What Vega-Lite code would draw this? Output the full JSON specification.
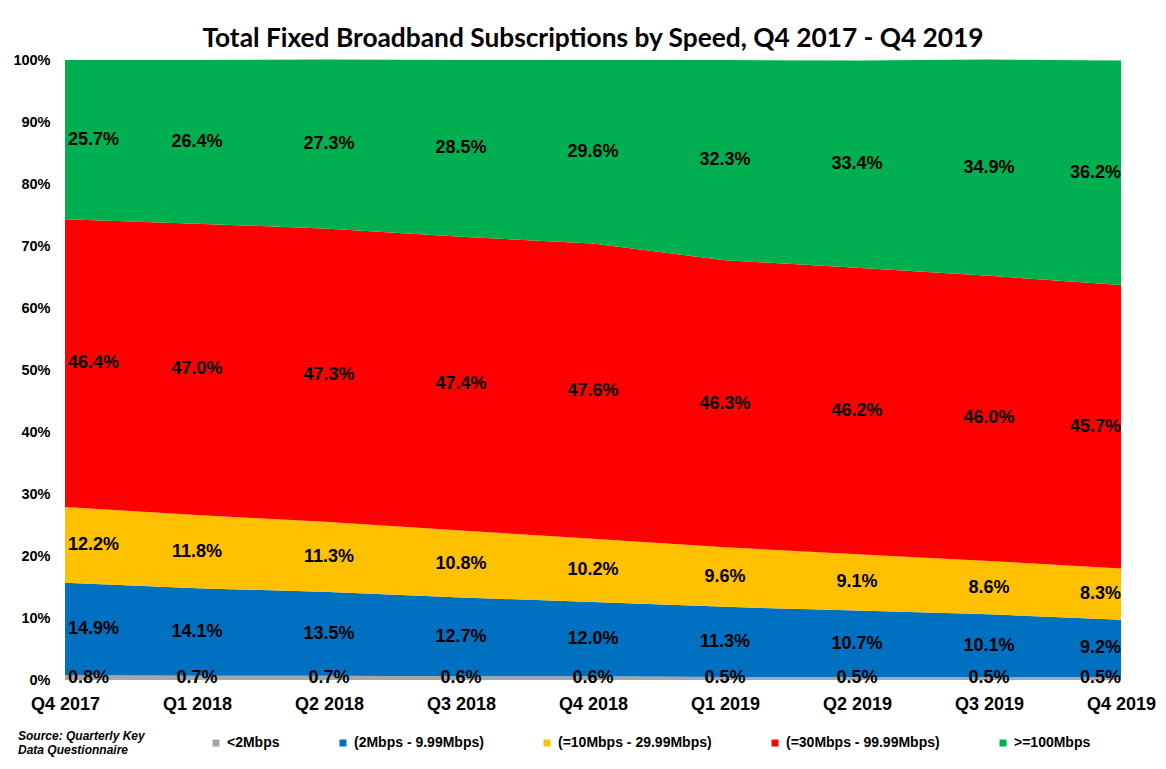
{
  "$schema": "https://vega.github.io/schema/vega-lite/v6.json",
  "autosize": "none",
  "width": 1056,
  "height": 620,
  "padding": {"left": 65, "top": 60, "right": 45, "bottom": 89},
  "background": "white",
  "config": {"view": {"stroke": null}},
  "title": {
    "text": "Total Fixed Broadband Subscriptions by Speed, Q4 2017 - Q4 2019",
    "font": "Lato",
    "fontSize": 26.3,
    "fontWeight": "bold",
    "color": "#000000",
    "anchor": "middle",
    "frame": "group",
    "offset": 0
  },
  "data": {
    "values": [
      {"quarter": "Q4 2017", "series": "<2Mbps", "value": 0.008},
      {"quarter": "Q4 2017", "series": "(2Mbps - 9.99Mbps)", "value": 0.149},
      {"quarter": "Q4 2017", "series": "(=10Mbps - 29.99Mbps)", "value": 0.122},
      {"quarter": "Q4 2017", "series": "(=30Mbps - 99.99Mbps)", "value": 0.464},
      {"quarter": "Q4 2017", "series": ">=100Mbps", "value": 0.257},
      {"quarter": "Q1 2018", "series": "<2Mbps", "value": 0.007},
      {"quarter": "Q1 2018", "series": "(2Mbps - 9.99Mbps)", "value": 0.141},
      {"quarter": "Q1 2018", "series": "(=10Mbps - 29.99Mbps)", "value": 0.118},
      {"quarter": "Q1 2018", "series": "(=30Mbps - 99.99Mbps)", "value": 0.470},
      {"quarter": "Q1 2018", "series": ">=100Mbps", "value": 0.264},
      {"quarter": "Q2 2018", "series": "<2Mbps", "value": 0.007},
      {"quarter": "Q2 2018", "series": "(2Mbps - 9.99Mbps)", "value": 0.135},
      {"quarter": "Q2 2018", "series": "(=10Mbps - 29.99Mbps)", "value": 0.113},
      {"quarter": "Q2 2018", "series": "(=30Mbps - 99.99Mbps)", "value": 0.473},
      {"quarter": "Q2 2018", "series": ">=100Mbps", "value": 0.273},
      {"quarter": "Q3 2018", "series": "<2Mbps", "value": 0.006},
      {"quarter": "Q3 2018", "series": "(2Mbps - 9.99Mbps)", "value": 0.127},
      {"quarter": "Q3 2018", "series": "(=10Mbps - 29.99Mbps)", "value": 0.108},
      {"quarter": "Q3 2018", "series": "(=30Mbps - 99.99Mbps)", "value": 0.474},
      {"quarter": "Q3 2018", "series": ">=100Mbps", "value": 0.285},
      {"quarter": "Q4 2018", "series": "<2Mbps", "value": 0.006},
      {"quarter": "Q4 2018", "series": "(2Mbps - 9.99Mbps)", "value": 0.120},
      {"quarter": "Q4 2018", "series": "(=10Mbps - 29.99Mbps)", "value": 0.102},
      {"quarter": "Q4 2018", "series": "(=30Mbps - 99.99Mbps)", "value": 0.476},
      {"quarter": "Q4 2018", "series": ">=100Mbps", "value": 0.296},
      {"quarter": "Q1 2019", "series": "<2Mbps", "value": 0.005},
      {"quarter": "Q1 2019", "series": "(2Mbps - 9.99Mbps)", "value": 0.113},
      {"quarter": "Q1 2019", "series": "(=10Mbps - 29.99Mbps)", "value": 0.096},
      {"quarter": "Q1 2019", "series": "(=30Mbps - 99.99Mbps)", "value": 0.463},
      {"quarter": "Q1 2019", "series": ">=100Mbps", "value": 0.323},
      {"quarter": "Q2 2019", "series": "<2Mbps", "value": 0.005},
      {"quarter": "Q2 2019", "series": "(2Mbps - 9.99Mbps)", "value": 0.107},
      {"quarter": "Q2 2019", "series": "(=10Mbps - 29.99Mbps)", "value": 0.091},
      {"quarter": "Q2 2019", "series": "(=30Mbps - 99.99Mbps)", "value": 0.462},
      {"quarter": "Q2 2019", "series": ">=100Mbps", "value": 0.334},
      {"quarter": "Q3 2019", "series": "<2Mbps", "value": 0.005},
      {"quarter": "Q3 2019", "series": "(2Mbps - 9.99Mbps)", "value": 0.101},
      {"quarter": "Q3 2019", "series": "(=10Mbps - 29.99Mbps)", "value": 0.086},
      {"quarter": "Q3 2019", "series": "(=30Mbps - 99.99Mbps)", "value": 0.460},
      {"quarter": "Q3 2019", "series": ">=100Mbps", "value": 0.349},
      {"quarter": "Q4 2019", "series": "<2Mbps", "value": 0.005},
      {"quarter": "Q4 2019", "series": "(2Mbps - 9.99Mbps)", "value": 0.092},
      {"quarter": "Q4 2019", "series": "(=10Mbps - 29.99Mbps)", "value": 0.083},
      {"quarter": "Q4 2019", "series": "(=30Mbps - 99.99Mbps)", "value": 0.457},
      {"quarter": "Q4 2019", "series": ">=100Mbps", "value": 0.362}
    ]
  },
  "transform": [
    {"stack": "value", "groupby": ["quarter"], "as": ["y0", "y1"], "offset": "zero"}
  ],
  "encoding": {
    "x": {
      "field": "quarter",
      "type": "ordinal",
      "sort": null,
      "scale": {"type": "point", "padding": 0},
      "axis": {
        "title": null,
        "labelAngle": 0,
        "domain": false,
        "ticks": false,
        "labelPadding": 15,
        "labelFont": "Liberation Sans",
        "labelFontSize": 18,
        "labelFontWeight": "bold",
        "labelColor": "#000000"
      }
    }
  },
  "layer": [
    {
      "mark": {"type": "area", "opacity": 1},
      "encoding": {
        "y": {
          "field": "y1",
          "type": "quantitative",
          "scale": {"domain": [0, 1]},
          "axis": {
            "title": null,
            "format": ".0%",
            "values": [0, 0.1, 0.2, 0.3, 0.4, 0.5, 0.6, 0.7, 0.8, 0.9, 1],
            "grid": false,
            "domain": false,
            "ticks": false,
            "labelPadding": 15,
            "labelFont": "Liberation Sans",
            "labelFontSize": 14.5,
            "labelFontWeight": "bold",
            "labelColor": "#000000"
          }
        },
        "y2": {"field": "y0"},
        "color": {
          "field": "series",
          "type": "nominal",
          "scale": {
            "domain": ["<2Mbps", "(2Mbps - 9.99Mbps)", "(=10Mbps - 29.99Mbps)", "(=30Mbps - 99.99Mbps)", ">=100Mbps"],
            "range": ["#A6A6A6", "#0070C0", "#FFC000", "#FF0000", "#00B050"]
          },
          "legend": {
            "title": ["Source:  Quarterly Key", "Data Questionnaire"],
            "titleOrient": "left",
            "titleFont": "Liberation Sans",
            "titleFontSize": 12,
            "titleFontWeight": "bold",
            "titleFontStyle": "italic",
            "titleColor": "#000000",
            "titlePadding": 60,
            "titleLineHeight": 14,
            "orient": "none",
            "legendX": -47,
            "legendY": 676,
            "direction": "horizontal",
            "columns": 5,
            "columnPadding": 56,
            "symbolType": "square",
            "symbolSize": 49,
            "symbolStrokeWidth": 0,
            "labelOffset": 4,
            "labelFont": "Liberation Sans",
            "labelFontSize": 14,
            "labelFontWeight": "bold",
            "labelColor": "#000000"
          }
        }
      }
    },
    {
      "transform": [
        {"fold": ["y0", "y1"], "as": ["edge", "pos"]},
        {"aggregate": [{"op": "mean", "field": "pos", "as": "mid"}, {"op": "max", "field": "value", "as": "share"}], "groupby": ["quarter", "series"]},
        {"filter": "datum.quarter == 'Q4 2017'"}
      ],
      "mark": {"type": "text", "align": "left", "baseline": "middle", "dx": 3, "font": "Liberation Sans", "fontSize": 18, "fontWeight": "bold", "color": "#000000"},
      "encoding": {
        "y": {"field": "mid", "type": "quantitative"},
        "text": {"field": "share", "type": "quantitative", "format": ".1%"}
      }
    },
    {
      "transform": [
        {"fold": ["y0", "y1"], "as": ["edge", "pos"]},
        {"aggregate": [{"op": "mean", "field": "pos", "as": "mid"}, {"op": "max", "field": "value", "as": "share"}], "groupby": ["quarter", "series"]},
        {"filter": "datum.quarter != 'Q4 2017' && datum.quarter != 'Q4 2019'"}
      ],
      "mark": {"type": "text", "align": "center", "baseline": "middle", "font": "Liberation Sans", "fontSize": 18, "fontWeight": "bold", "color": "#000000"},
      "encoding": {
        "y": {"field": "mid", "type": "quantitative"},
        "text": {"field": "share", "type": "quantitative", "format": ".1%"}
      }
    },
    {
      "transform": [
        {"fold": ["y0", "y1"], "as": ["edge", "pos"]},
        {"aggregate": [{"op": "mean", "field": "pos", "as": "mid"}, {"op": "max", "field": "value", "as": "share"}], "groupby": ["quarter", "series"]},
        {"filter": "datum.quarter == 'Q4 2019'"}
      ],
      "mark": {"type": "text", "align": "right", "baseline": "middle", "dx": 0, "font": "Liberation Sans", "fontSize": 18, "fontWeight": "bold", "color": "#000000"},
      "encoding": {
        "y": {"field": "mid", "type": "quantitative"},
        "text": {"field": "share", "type": "quantitative", "format": ".1%"}
      }
    }
  ]
}
